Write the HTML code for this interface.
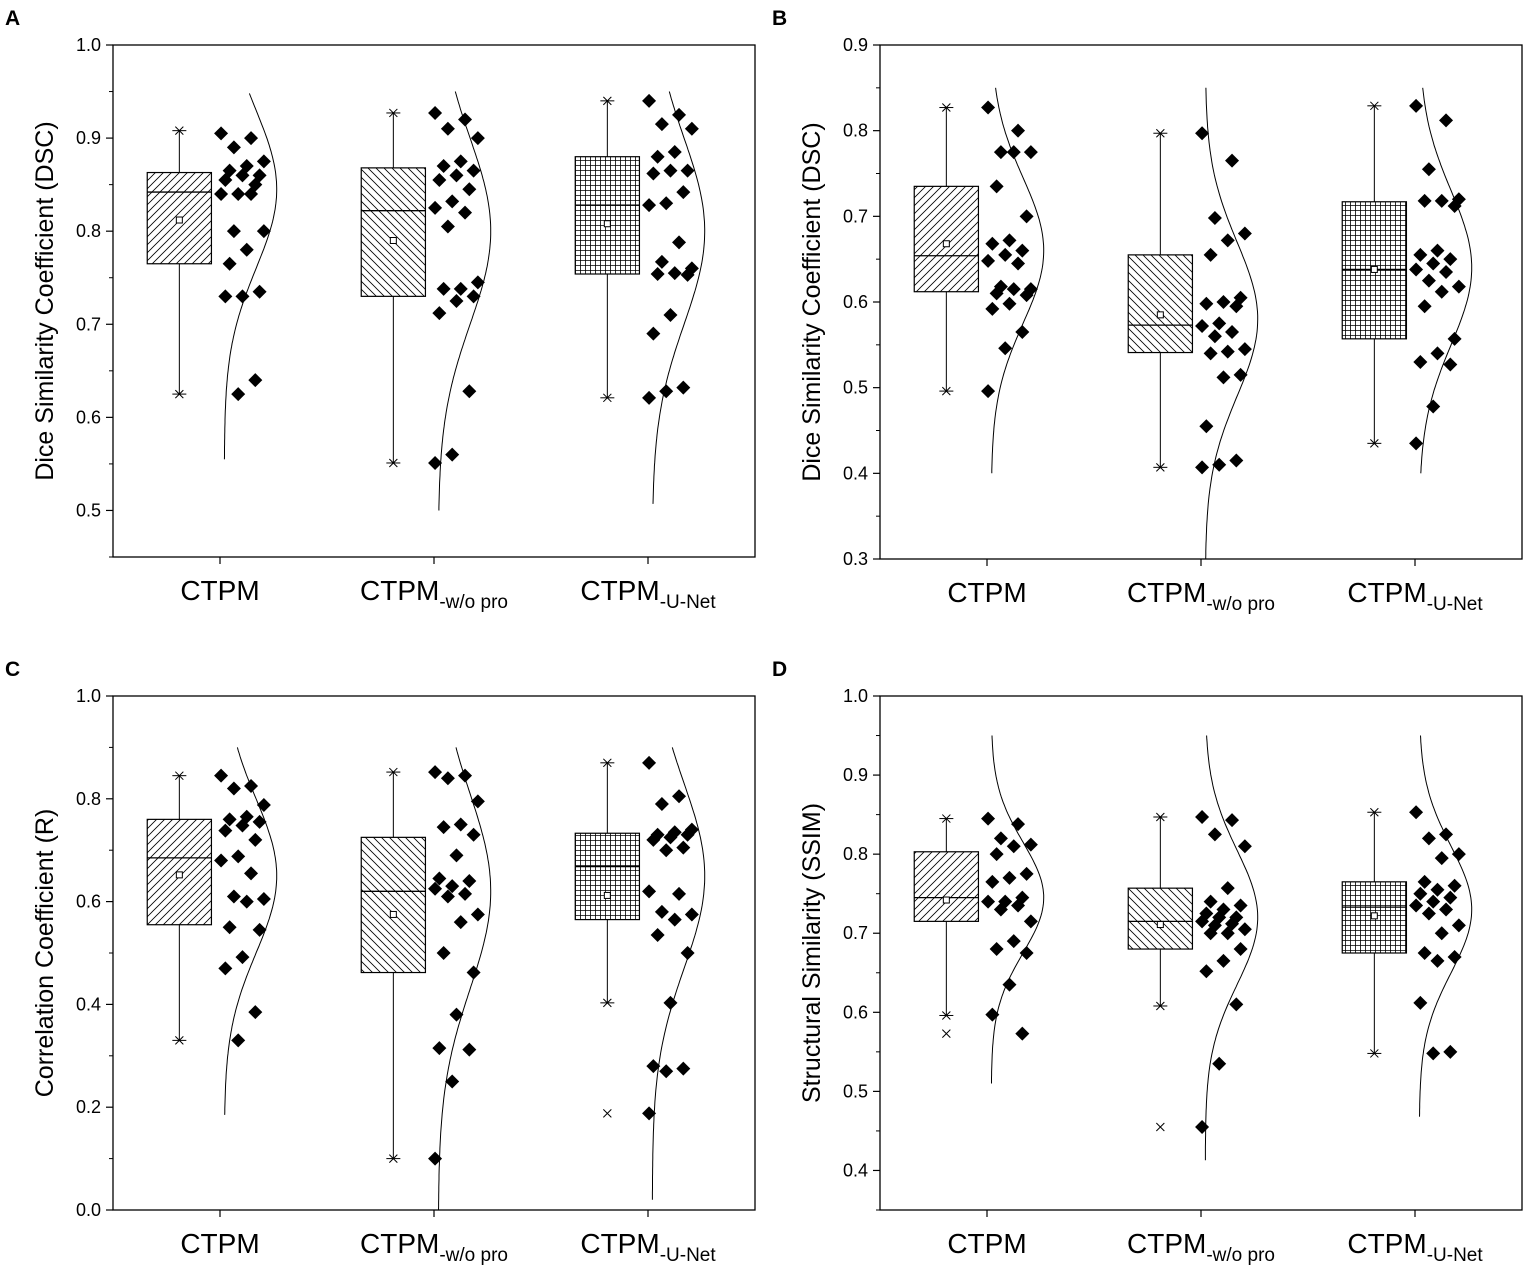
<!DOCTYPE html>
<html><head><meta charset="utf-8">
<style>
body{margin:0;background:#fff;}
svg text{font-family:"Liberation Sans",Arial,sans-serif;fill:#000;}
</style></head>
<body>
<svg id="chart" width="1535" height="1272" viewBox="0 0 1535 1272" xmlns="http://www.w3.org/2000/svg">
<defs>
<pattern id="pDiag1" patternUnits="userSpaceOnUse" width="8" height="8"><path d="M-2,10 L10,-2 M-2,2 L2,-2 M6,10 L10,6" stroke="#000" stroke-width="0.8"/></pattern>
<pattern id="pDiag2" patternUnits="userSpaceOnUse" width="8" height="8"><path d="M-2,-2 L10,10 M6,-2 L10,2 M-2,6 L2,10" stroke="#000" stroke-width="0.8"/></pattern>
<pattern id="pGrid" patternUnits="userSpaceOnUse" width="5" height="5"><path d="M0,0.5 H5 M0.5,0 V5" stroke="#000" stroke-width="0.8"/></pattern>
</defs>
</svg>
<script>
const categories = ["CTPM","CTPM","CTPM"];
const subLabels = ["", "-w/o pro", "-U-Net"];
const panelLetters = ["A","B","C","D"];
const yTitles = ["Dice Similarity Coefficient (DSC)","Dice Similarity Coefficient (DSC)","Correlation Coefficient (R)","Structural Similarity (SSIM)"];
const yMin = [0.45, 0.3, 0.0, 0.35];
const yMax = [1.0, 0.9, 1.0, 1.0];
const yTickStep = [0.1, 0.1, 0.2, 0.1];
// box stats per panel per category: [q1, median, q3, mean, whiskerLow, whiskerHigh]
const boxA = [[0.765,0.842,0.863,0.812,0.625,0.908],[0.730,0.822,0.868,0.790,0.551,0.927],[0.754,0.828,0.880,0.808,0.621,0.940]];
const boxB = [[0.612,0.654,0.735,0.668,0.496,0.827],[0.541,0.573,0.655,0.585,0.407,0.797],[0.557,0.638,0.717,0.638,0.435,0.829]];
const boxC = [[0.555,0.685,0.760,0.652,0.330,0.845],[0.462,0.620,0.725,0.575,0.100,0.852],[0.565,0.668,0.733,0.612,0.403,0.870]];
const boxD = [[0.715,0.745,0.803,0.742,0.596,0.845],[0.680,0.715,0.757,0.711,0.608,0.847],[0.675,0.733,0.765,0.722,0.548,0.853]];
const outliersA = [[],[],[]];
const outliersB = [[],[],[]];
const outliersC = [[],[],[0.188]];
const outliersD = [[0.573],[0.455],[]];
const pointsA = [
 [0.905,0.9,0.89,0.875,0.87,0.865,0.86,0.86,0.855,0.85,0.84,0.84,0.84,0.8,0.8,0.78,0.765,0.735,0.73,0.73,0.64,0.625],
 [0.927,0.92,0.91,0.9,0.875,0.87,0.865,0.86,0.855,0.845,0.832,0.825,0.82,0.805,0.745,0.738,0.738,0.73,0.725,0.712,0.628,0.56,0.551],
 [0.94,0.925,0.915,0.91,0.885,0.88,0.865,0.865,0.862,0.842,0.83,0.828,0.788,0.767,0.76,0.755,0.754,0.753,0.71,0.69,0.632,0.628,0.621]];
const pointsB = [
 [0.827,0.8,0.775,0.775,0.775,0.735,0.7,0.672,0.668,0.66,0.655,0.648,0.645,0.618,0.615,0.615,0.61,0.608,0.598,0.592,0.565,0.546,0.496],
 [0.797,0.765,0.698,0.68,0.672,0.655,0.605,0.6,0.598,0.595,0.575,0.572,0.565,0.56,0.545,0.542,0.54,0.515,0.512,0.455,0.415,0.41,0.407],
 [0.829,0.812,0.755,0.72,0.718,0.718,0.712,0.66,0.655,0.65,0.645,0.638,0.635,0.625,0.618,0.612,0.595,0.557,0.54,0.53,0.527,0.478,0.435]];
const pointsC = [
 [0.845,0.825,0.82,0.788,0.765,0.76,0.755,0.748,0.738,0.72,0.688,0.68,0.655,0.61,0.605,0.6,0.55,0.545,0.492,0.47,0.385,0.33],
 [0.852,0.845,0.84,0.795,0.75,0.745,0.73,0.69,0.645,0.64,0.63,0.625,0.615,0.61,0.575,0.56,0.5,0.462,0.38,0.315,0.312,0.25,0.1],
 [0.87,0.805,0.79,0.74,0.735,0.73,0.73,0.725,0.72,0.705,0.7,0.62,0.615,0.58,0.575,0.565,0.535,0.5,0.403,0.28,0.275,0.27,0.188]];
const pointsD = [
 [0.845,0.838,0.82,0.812,0.81,0.8,0.775,0.77,0.765,0.745,0.74,0.74,0.735,0.73,0.715,0.69,0.68,0.675,0.635,0.597,0.573],
 [0.847,0.843,0.825,0.81,0.757,0.74,0.735,0.73,0.725,0.72,0.72,0.715,0.712,0.71,0.705,0.7,0.7,0.68,0.665,0.652,0.61,0.535,0.455],
 [0.853,0.825,0.82,0.8,0.795,0.765,0.76,0.755,0.75,0.745,0.74,0.735,0.73,0.725,0.71,0.7,0.675,0.67,0.665,0.612,0.55,0.548]];
// normal curve: [mean, sd, lowEnd, highEnd]
const curveA = [[0.845,0.085,0.555,0.948],[0.80,0.10,0.50,0.95],[0.80,0.10,0.507,0.95]];
const curveB = [[0.66,0.085,0.40,0.85],[0.58,0.09,0.30,0.85],[0.64,0.09,0.40,0.85]];
const curveC = [[0.65,0.15,0.185,0.90],[0.62,0.19,0.0,0.90],[0.65,0.18,0.02,0.90]];
const curveD = [[0.745,0.07,0.51,0.95],[0.72,0.085,0.413,0.95],[0.73,0.08,0.468,0.95]];

const boxes=[boxA,boxB,boxC,boxD], outs=[outliersA,outliersB,outliersC,outliersD], pts=[pointsA,pointsB,pointsC,pointsD], curves=[curveA,curveB,curveC,curveD];
const frames=[[113,45,755,557],[880,45,1522,559],[113,696,755,1210],[880,696,1522,1210]];
const fills=["url(#pDiag1)","url(#pDiag2)","url(#pGrid)"];
const svg=document.getElementById('chart');
const NS="http://www.w3.org/2000/svg";
function mk(tag,attrs,parent){const e=document.createElementNS(NS,tag);for(const k in attrs)e.setAttribute(k,attrs[k]);(parent||svg).appendChild(e);return e;}

for(let p=0;p<4;p++){
  const [L,T,R,B]=frames[p];
  const g=mk('g',{});
  
  
  const y=v=>B-(v-yMin[p])/(yMax[p]-yMin[p])*(B-T);
  const x=c=>L+(c+0.5)/3*(R-L);
  const ppu=(R-L)/3;
  const lt=mk('text',{x:L-108,y:T-20,'font-size':21,'font-weight':'bold'},g);lt.textContent=panelLetters[p];
  
  
  const fr=mk('rect',{x:L,y:T,width:R-L,height:B-T,fill:'none',stroke:'#000','stroke-width':1.3},g);
  
  
  const step=yTickStep[p];
  let start=Math.ceil(yMin[p]/step-1e-9)*step;
  for(let v=start;v<=yMax[p]+1e-9;v+=step){
    const yy=y(v);
    mk('line',{x1:L-7,x2:L,y1:yy,y2:yy,stroke:'#000','stroke-width':1.2},g);
    const t=mk('text',{x:L-12,y:yy+6,'font-size':18,'text-anchor':'end'},g);
    t.textContent=v.toFixed(1);
    
    
  }
  for(let v=start-step/2;v<=yMax[p]+1e-9;v+=step){ if(v<yMin[p]-1e-9)continue; const yy=y(v); mk('line',{x1:L-4,x2:L,y1:yy,y2:yy,stroke:'#000','stroke-width':1},g);}
  const yt=mk('text',{x:0,y:0,'font-size':25,'text-anchor':'middle',transform:`translate(${L-60},${(T+B)/2}) rotate(-90)`},g);
  yt.textContent=yTitles[p];
  
  
  for(let c=0;c<3;c++){
    const cx=x(c);
    mk('line',{x1:cx,x2:cx,y1:B,y2:B+7,stroke:'#000','stroke-width':1.2},g);
    const t=mk('text',{x:cx,y:B+43,'font-size':28,'text-anchor':'middle'},g);
    
    
    t.appendChild(document.createTextNode(categories[c]));
    if(subLabels[c]){const s=mk('tspan',{'font-size':19,dy:8},t);s.textContent=subLabels[c];}
    const [q1,md,q3,mn,wl,wh]=boxes[p][c];
    const bx=cx-0.19*ppu, bw=0.3*ppu;
    const bg=mk('g',{},g);
    
    
    mk('line',{x1:bx,x2:bx,y1:y(wh),y2:y(q3),stroke:'#000','stroke-width':1},bg);
    mk('line',{x1:bx,x2:bx,y1:y(q1),y2:y(wl),stroke:'#000','stroke-width':1},bg);
    for(const w of [wl,wh]){const wy=y(w);
      mk('line',{x1:bx-7,x2:bx+7,y1:wy,y2:wy,stroke:'#000','stroke-width':1},bg);
      mk('path',{d:`M${bx-4},${wy-4}L${bx+4},${wy+4}M${bx-4},${wy+4}L${bx+4},${wy-4}`,stroke:'#000','stroke-width':1},bg);}
    mk('rect',{x:bx-bw/2,y:y(q3),width:bw,height:y(q1)-y(q3),fill:fills[c],stroke:'#000','stroke-width':1.2},bg);
    mk('line',{x1:bx-bw/2,x2:bx+bw/2,y1:y(md),y2:y(md),stroke:'#000','stroke-width':1.3},bg);
    mk('rect',{x:bx-3,y:y(mn)-3,width:6,height:6,fill:'#fff',stroke:'#000','stroke-width':1},bg);
    for(const o of outs[p][c]){const oy=y(o);
      const om=mk('path',{d:`M${bx-4},${oy-4}L${bx+4},${oy+4}M${bx-4},${oy+4}L${bx+4},${oy-4}`,stroke:'#000','stroke-width':1},g);
      
      }
    const arr=pts[p][c];
    arr.forEach((v,i)=>{
      const px=cx+((i*7)%11)/10*0.2*ppu+0.005*ppu;
      const py=y(v);
      const d=mk('path',{d:`M${px},${py-7}L${px+7},${py}L${px},${py+7}L${px-7},${py}Z`,fill:'#000'},g);
      
      
    });
    const [m,sd,lo,hi]=curves[p][c];
    const base=cx+0.02*ppu, amp=0.245*ppu;
    let dStr='';
    for(let k=0;k<=120;k++){const v=lo+(hi-lo)*k/120;
      const xx=base+amp*Math.exp(-((v-m)**2)/(2*sd*sd));
      dStr+=(k?'L':'M')+xx.toFixed(1)+','+y(v).toFixed(1);}
    const cv=mk('path',{d:dStr,fill:'none',stroke:'#000','stroke-width':1},g);
    
    
  }
}
</script>
</body></html>
